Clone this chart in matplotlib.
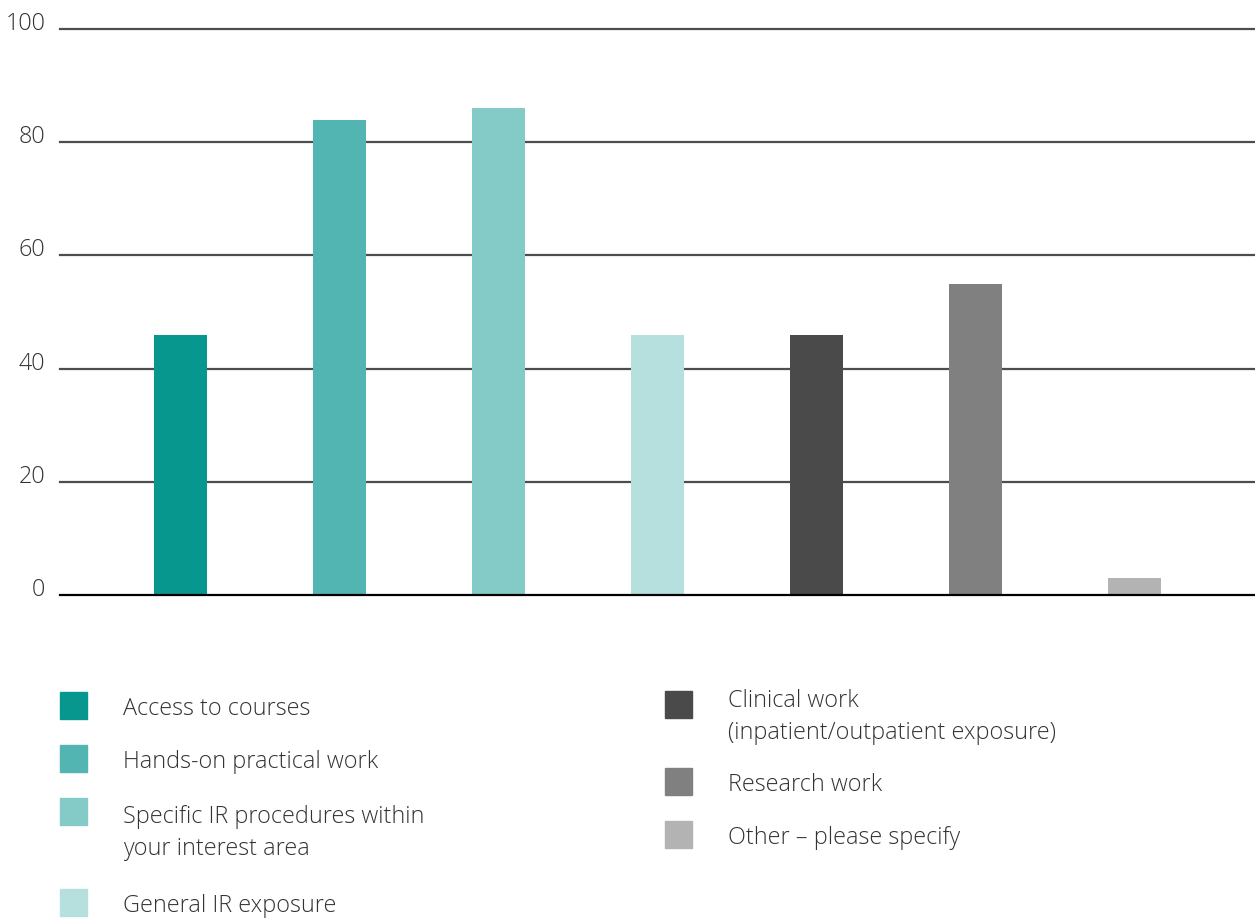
import matplotlib.pyplot as plt
from matplotlib.patches import Rectangle

categories = ['Access to courses', 'Hands-on practical work',
              'Specific IR procedures within\nyour interest area', 'General IR exposure',
              'Clinical work\n(inpatient/outpatient exposure)', 'Research work',
              'Other \u2013 please specify']
values = [46, 84, 86, 46, 46, 55, 3]
colors = ['#08978f', '#52b5b1', '#84cbc7', '#b6e0de', '#4a4a4a', '#808080', '#b3b3b3']
yticks = [0, 20, 40, 60, 80, 100]

plt.rcParams['font.family'] = ['Open Sans', 'DejaVu Sans']

W, H = 1255, 920
fig = plt.figure(figsize=(W / 100, H / 100), dpi=100)
ax = fig.add_axes([60 / W, 1 - 596 / H, 1 - 60 / W, (596 - 30) / H])

x = list(range(len(values)))
ax.bar(x, values, width=0.335, color=colors, zorder=3)
ax.set_xlim(-0.76, 6.76)
ax.set_ylim(0, 100)

for t in yticks:
    ax.axhline(t, color='black' if t == 0 else '#4d4d4d', lw=1.6,
               zorder=4 if t == 0 else 1, clip_on=False)

for s in ax.spines.values():
    s.set_visible(False)
ax.set_xticks([])
ax.set_yticks(yticks)
ax.set_yticklabels([str(t) for t in yticks], fontsize=16.8, color='#333333',
                   fontweight='light', va='baseline')
ax.tick_params(axis='y', length=0, pad=10.5)

# legend drawn by hand: two columns (square centre, first text line centre)
left_rows = [(706, 706), (759, 759), (812, 814), (903, 903)]
right_rows = [(705, 698), (782, 782), (835, 835)]
positions = [(60, r) for r in left_rows] + [(665, r) for r in right_rows]
sq = 27
for (px, (sy, ty)), lab, c in zip(positions, categories, colors):
    fig.add_artist(Rectangle((px / W, 1 - (sy + sq / 2) / H), sq / W, sq / H,
                             transform=fig.transFigure, color=c))
    fig.text((px + 63) / W, 1 - (ty - 9) / H, lab, fontsize=16.8, color='#333333',
             fontweight='light', va='top', ha='left', linespacing=1.42)

fig.savefig('out.png', dpi=100)
